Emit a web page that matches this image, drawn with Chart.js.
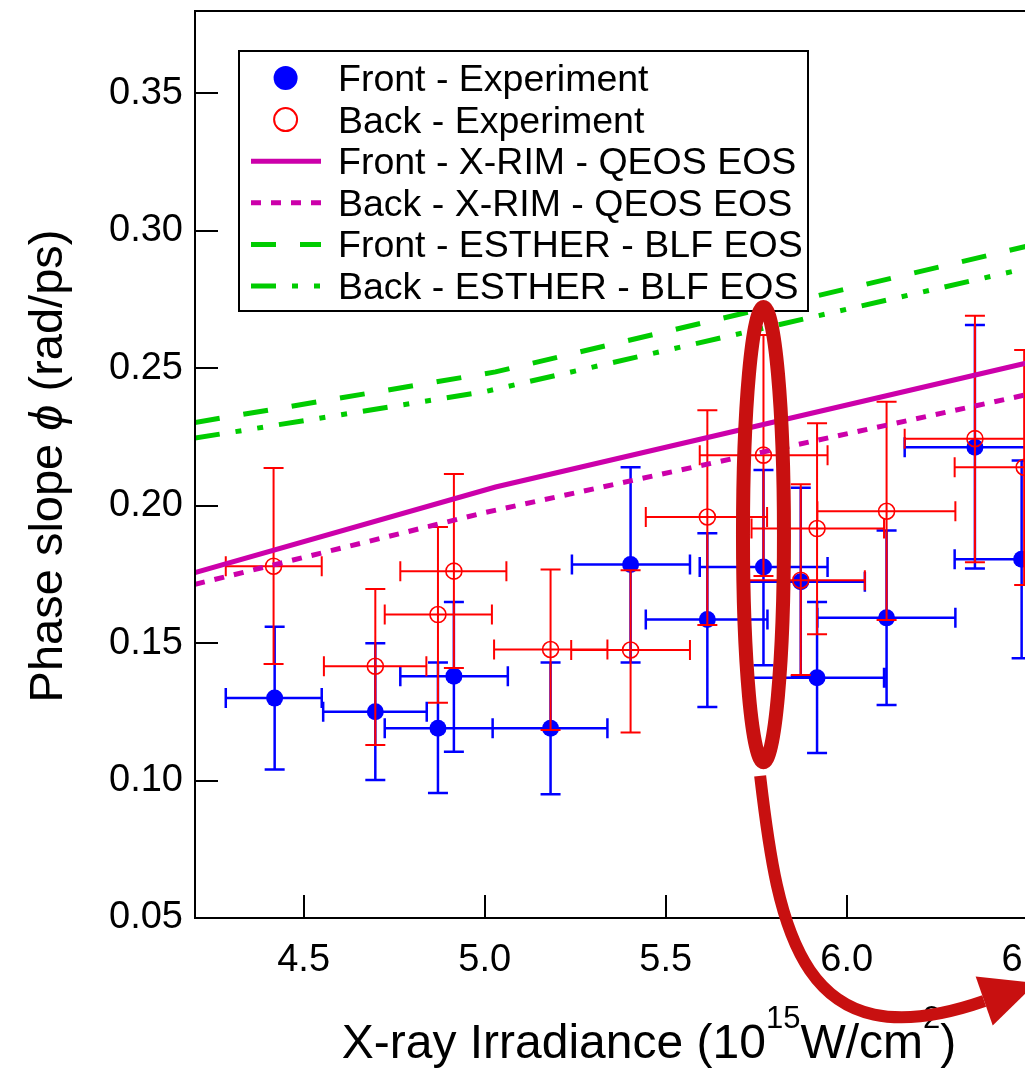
<!DOCTYPE html>
<html>
<head>
<meta charset="utf-8">
<title>Phase slope vs X-ray irradiance</title>
<script src="https://cdn.jsdelivr.net/npm/chart.js@4.4.1/dist/chart.umd.min.js"></script>
<style>
  html, body { margin: 0; padding: 0; background: #fff; overflow: hidden; }
  #frame { width: 1025px; height: 1070px; overflow: hidden; }
  canvas { display: block; }
</style>
</head>
<body>
<div id="frame"><canvas id="chart" width="1100" height="1070"></canvas></div>
<script>
const FONT = '"Liberation Sans", Arial, Helvetica, sans-serif';

// Axis ranges and tick labels
const xRange = [4.2, 6.6];
const yRange = [0.05, 0.38];
const xTickValues = [4.5, 5.0, 5.5, 6.0, 6.5];
const yTickValues = [0.05, 0.10, 0.15, 0.20, 0.25, 0.30, 0.35];

// Front - Experiment (irradiance, phase slope, and error-bar bounds)
const frontX   = [4.42, 4.698, 4.871, 4.915, 5.182, 5.403, 5.615, 5.77, 5.873, 5.918, 6.11, 6.354, 6.483];
const frontY   = [0.130, 0.125, 0.119, 0.138, 0.119, 0.1786, 0.1586, 0.1777, 0.1723, 0.1374, 0.1592, 0.2213, 0.1805];
const frontXLo = [4.285, 4.554, 4.724, 4.767, 5.022, 5.241, 5.445, 5.594, 5.709, 5.737, 5.919, 6.16, 6.298];
const frontXHi = [4.55, 4.84, 5.022, 5.064, 5.339, 5.567, 5.781, 5.947, 6.05, 6.103, 6.30, 6.548, 6.668];
const frontYLo = [0.104, 0.1002, 0.0955, 0.1105, 0.095, 0.143, 0.1268, 0.142, 0.138, 0.110, 0.1275, 0.1772, 0.1445];
const frontYHi = [0.156, 0.150, 0.143, 0.165, 0.143, 0.214, 0.190, 0.213, 0.2065, 0.165, 0.191, 0.2658, 0.2165];

// Back - Experiment
const backX   = [4.417, 4.698, 4.871, 4.915, 5.182, 5.403, 5.615, 5.77, 5.873, 5.918, 6.11, 6.354, 6.49];
const backY   = [0.178, 0.1416, 0.1604, 0.1762, 0.1477, 0.1475, 0.1959, 0.2184, 0.1729, 0.1917, 0.198, 0.2244, 0.214];
const backXLo = [4.285, 4.556, 4.724, 4.767, 5.026, 5.239, 5.445, 5.594, 5.709, 5.737, 5.919, 6.16, 6.298];
const backXHi = [4.55, 4.839, 5.02, 5.06, 5.339, 5.567, 5.78, 5.947, 6.05, 6.103, 6.30, 6.548, 6.682];
const backYLo = [0.1424, 0.1129, 0.1283, 0.141, 0.1184, 0.1175, 0.1566, 0.1744, 0.1384, 0.1532, 0.1584, 0.1794, 0.1712];
const backYHi = [0.2137, 0.1697, 0.1923, 0.2115, 0.1768, 0.1765, 0.2347, 0.2621, 0.2078, 0.2300, 0.2378, 0.2691, 0.2567];

// Simulated curves
const xrimFrontX   = [4.2, 5.03, 6.5];
const xrimFrontY   = [0.1757, 0.2068, 0.2520];
const xrimBackX    = [4.2, 5.0, 6.5];
const xrimBackY    = [0.1714, 0.1975, 0.2405];
const estherFrontX = [4.2, 5.03, 6.5];
const estherFrontY = [0.2303, 0.2487, 0.2945];
const estherBackX  = [4.2, 5.0, 6.5];
const estherBackY  = [0.2246, 0.2415, 0.2865];

// Series labels
const seriesNames = [
  'Front - Experiment',
  'Back - Experiment',
  'Front - X-RIM - QEOS EOS',
  'Back - X-RIM - QEOS EOS',
  'Front - ESTHER - BLF EOS',
  'Back - ESTHER - BLF EOS'
];

const BLUE = '#0000FF', RED = '#FF0000', MAGENTA = '#CC00AA', GREEN = '#00CC00', MARK = '#C81010';
const DASH_DOTTED = [10, 10];
const DASH_LONG = [25, 24];
const DASH_DOT = [25, 16, 6, 16, 6, 16];

const pts = (xs, ys) => xs.map((v, i) => ({ x: v, y: ys[i] }));

// Highlight ellipse (data units) and the curved arrow leaving it
const highlight = { cx: 5.77, cy: 0.1895, rx: 0.0566, ry: 0.0828 };
const arrowCurve = { start: [5.7608, 0.1017], c1: [5.8105, 0.0456], c2: [5.8713, -0.0035], end: [6.3796, 0.0198] };

// Error bars, drawn just under each experiment's markers
const errorBars = {
  id: 'errorBars',
  beforeDatasetDraw(chart, args) {
    const ds = chart.data.datasets[args.index];
    if (!ds.err) return;
    const { ctx, chartArea: a, scales: { x, y } } = chart;
    const cap = 10;
    ctx.save();
    ctx.beginPath();
    ctx.rect(a.left, a.top, a.right - a.left, a.bottom - a.top);
    ctx.clip();
    ctx.strokeStyle = ds.err.color;
    ctx.lineWidth = ds.err.width;
    ctx.beginPath();
    ds.data.forEach((p, i) => {
      const px = x.getPixelForValue(p.x), py = y.getPixelForValue(p.y);
      const x0 = x.getPixelForValue(ds.err.xLo[i]), x1 = x.getPixelForValue(ds.err.xHi[i]);
      const y0 = y.getPixelForValue(ds.err.yLo[i]), y1 = y.getPixelForValue(ds.err.yHi[i]);
      ctx.moveTo(x0, py); ctx.lineTo(x1, py);
      ctx.moveTo(x0, py - cap); ctx.lineTo(x0, py + cap);
      ctx.moveTo(x1, py - cap); ctx.lineTo(x1, py + cap);
      ctx.moveTo(px, y0); ctx.lineTo(px, y1);
      ctx.moveTo(px - cap, y0); ctx.lineTo(px + cap, y0);
      ctx.moveTo(px - cap, y1); ctx.lineTo(px + cap, y1);
    });
    ctx.stroke();
    ctx.restore();
  }
};

// Box frame, inward tick marks and the legend
const frameAndLegend = {
  id: 'frameAndLegend',
  afterDatasetsDraw(chart) {
    const { ctx, chartArea: a, scales: { x, y } } = chart;
    ctx.save();
    ctx.strokeStyle = '#000';
    ctx.lineWidth = 2;
    ctx.strokeRect(a.left, a.top, a.right - a.left, a.bottom - a.top);
    ctx.beginPath();
    yTickValues.forEach(v => {
      const py = Math.round(y.getPixelForValue(v));
      ctx.moveTo(a.left, py); ctx.lineTo(a.left + 23, py);
    });
    xTickValues.forEach(v => {
      const px = Math.round(x.getPixelForValue(v));
      ctx.moveTo(px, a.bottom); ctx.lineTo(px, a.bottom - 23);
    });
    ctx.stroke();

    // legend box
    const L = 239, T = 51, R = 808, B = 311;
    ctx.fillStyle = '#fff';
    ctx.fillRect(L, T, R - L, B - T);
    ctx.strokeRect(L, T, R - L, B - T);
    const rowY = i => 78 + 41.6 * i;
    const symX = 285.6, lineX0 = 251, lineX1 = 321;
    // markers
    ctx.fillStyle = BLUE;
    ctx.beginPath(); ctx.arc(symX, rowY(0), 12, 0, Math.PI * 2); ctx.fill();
    ctx.strokeStyle = RED; ctx.lineWidth = 2;
    ctx.beginPath(); ctx.arc(symX, rowY(1), 11.5, 0, Math.PI * 2); ctx.stroke();
    // line samples
    const samples = [
      { color: MAGENTA, dash: [] },
      { color: MAGENTA, dash: DASH_DOTTED },
      { color: GREEN, dash: DASH_LONG },
      { color: GREEN, dash: DASH_DOT }
    ];
    ctx.lineWidth = 5;
    ctx.lineCap = 'butt';
    samples.forEach((s, k) => {
      const yy = rowY(k + 2);
      ctx.strokeStyle = s.color;
      ctx.setLineDash(s.dash);
      ctx.beginPath(); ctx.moveTo(lineX0, yy); ctx.lineTo(lineX1, yy); ctx.stroke();
    });
    ctx.setLineDash([]);
    ctx.fillStyle = '#000';
    ctx.font = '37.5px ' + FONT;
    ctx.textBaseline = 'alphabetic';
    ctx.textAlign = 'left';
    seriesNames.forEach((t, i) => ctx.fillText(t, 338, rowY(i) + 13));
    ctx.restore();
  },
  afterDraw(chart) {
    const { ctx, scales: { x, y } } = chart;
    ctx.save();
    ctx.fillStyle = '#000';
    ctx.textBaseline = 'alphabetic';
    ctx.textAlign = 'left';

    // x-axis title with superscripts
    const big = 48, small = 31, rise = 30;
    const parts = [
      { t: 'X-ray Irradiance (10', s: big, r: 0 },
      { t: '15', s: small, r: rise },
      { t: 'W/cm', s: big, r: 0 },
      { t: '2', s: small, r: rise },
      { t: ')', s: big, r: 0 }
    ];
    let w = 0;
    parts.forEach(p => { ctx.font = p.s + 'px ' + FONT; p.w = ctx.measureText(p.t).width; w += p.w; });
    let cx = 649 - w / 2;
    parts.forEach(p => { ctx.font = p.s + 'px ' + FONT; ctx.fillText(p.t, cx, 1058 - p.r); cx += p.w; });

    // y-axis title, rotated
    const ybig = 47;
    const yparts = [
      { t: 'Phase slope ', f: ybig + 'px ' + FONT },
      { t: '\u03D5', f: 'italic ' + ybig + 'px ' + FONT },
      { t: ' (rad/ps)', f: ybig + 'px ' + FONT }
    ];
    let yw = 0;
    yparts.forEach(p => { ctx.font = p.f; p.w = ctx.measureText(p.t).width; yw += p.w; });
    ctx.translate(62, 466);
    ctx.rotate(-Math.PI / 2);
    let cy = -yw / 2;
    yparts.forEach(p => { ctx.font = p.f; ctx.fillText(p.t, cy, 0); cy += p.w; });
    ctx.setTransform(1, 0, 0, 1, 0, 0);

    // highlight ellipse and arrow
    ctx.strokeStyle = MARK;
    ctx.fillStyle = MARK;
    ctx.lineWidth = 14;
    const ex = x.getPixelForValue(highlight.cx), ey = y.getPixelForValue(highlight.cy);
    const erx = Math.abs(x.getPixelForValue(highlight.cx + highlight.rx) - ex);
    const ery = Math.abs(y.getPixelForValue(highlight.cy + highlight.ry) - ey);
    ctx.beginPath(); ctx.ellipse(ex, ey, erx, ery, 0, 0, Math.PI * 2); ctx.stroke();

    const P = p => [x.getPixelForValue(p[0]), y.getPixelForValue(p[1])];
    const s0 = P(arrowCurve.start), c1 = P(arrowCurve.c1), c2 = P(arrowCurve.c2), e = P(arrowCurve.end);
    ctx.lineWidth = 12;
    ctx.lineCap = 'butt';
    ctx.beginPath(); ctx.moveTo(s0[0], s0[1]);
    ctx.bezierCurveTo(c1[0], c1[1], c2[0], c2[1], e[0], e[1]);
    ctx.stroke();
    const dx = e[0] - c2[0], dy = e[1] - c2[1], dl = Math.hypot(dx, dy);
    const ux = dx / dl, uy = dy / dl, headLen = 55, half = 26;
    ctx.beginPath();
    ctx.moveTo(e[0] - uy * half, e[1] + ux * half);
    ctx.lineTo(e[0] + uy * half, e[1] - ux * half);
    ctx.lineTo(e[0] + ux * headLen, e[1] + uy * headLen);
    ctx.closePath();
    ctx.fill();
    ctx.restore();
  }
};

const zeroPad = s => { s.paddingTop = 0; s.paddingBottom = 0; s.paddingLeft = 0; s.paddingRight = 0; };

new Chart(document.getElementById('chart'), {
  type: 'scatter',
  data: {
    datasets: [
      { label: seriesNames[2], data: pts(xrimFrontX, xrimFrontY), showLine: true, borderColor: MAGENTA, borderWidth: 5, pointRadius: 0, order: 0 },
      { label: seriesNames[3], data: pts(xrimBackX, xrimBackY), showLine: true, borderColor: MAGENTA, borderWidth: 5, borderDash: DASH_DOTTED, pointRadius: 0, order: 0 },
      { label: seriesNames[4], data: pts(estherFrontX, estherFrontY), showLine: true, borderColor: GREEN, borderWidth: 5, borderDash: DASH_LONG, pointRadius: 0, order: 0 },
      { label: seriesNames[5], data: pts(estherBackX, estherBackY), showLine: true, borderColor: GREEN, borderWidth: 5, borderDash: DASH_DOT, pointRadius: 0, order: 0 },
      { label: seriesNames[1], data: pts(backX, backY), pointStyle: 'circle', pointRadius: 8, pointBackgroundColor: 'rgba(0,0,0,0)', pointBorderColor: RED, pointBorderWidth: 1.6, order: 1,
        err: { xLo: backXLo, xHi: backXHi, yLo: backYLo, yHi: backYHi, color: RED, width: 2 } },
      { label: seriesNames[0], data: pts(frontX, frontY), pointStyle: 'circle', pointRadius: 8.5, pointBackgroundColor: BLUE, pointBorderWidth: 0, order: 2,
        err: { xLo: frontXLo, xHi: frontXHi, yLo: frontYLo, yHi: frontYHi, color: BLUE, width: 2.5 } }
    ]
  },
  options: {
    responsive: false,
    devicePixelRatio: 1,
    animation: false,
    events: [],
    layout: { padding: { left: 0, top: 11, right: 36, bottom: 0 } },
    plugins: { legend: { display: false }, tooltip: { enabled: false }, title: { display: false } },
    scales: {
      x: {
        type: 'linear', min: xRange[0], max: xRange[1],
        grid: { display: false, drawTicks: false }, border: { display: false },
        ticks: { color: '#000', font: { family: FONT, size: 38 }, padding: 20, maxRotation: 0, autoSkip: false, callback: v => Number(v).toFixed(1) },
        afterBuildTicks: s => { s.ticks = xTickValues.map(v => ({ value: v })); },
        afterFit: s => { s.height = 152; zeroPad(s); }
      },
      y: {
        type: 'linear', min: yRange[0], max: yRange[1],
        grid: { display: false, drawTicks: false }, border: { display: false },
        ticks: { color: '#000', font: { family: FONT, size: 38 }, padding: 12, autoSkip: false, callback: v => Number(v).toFixed(2) },
        afterBuildTicks: s => { s.ticks = yTickValues.map(v => ({ value: v })); },
        afterFit: s => { s.width = 195; zeroPad(s); }
      }
    }
  },
  plugins: [errorBars, frameAndLegend]
});
</script>
</body>
</html>
